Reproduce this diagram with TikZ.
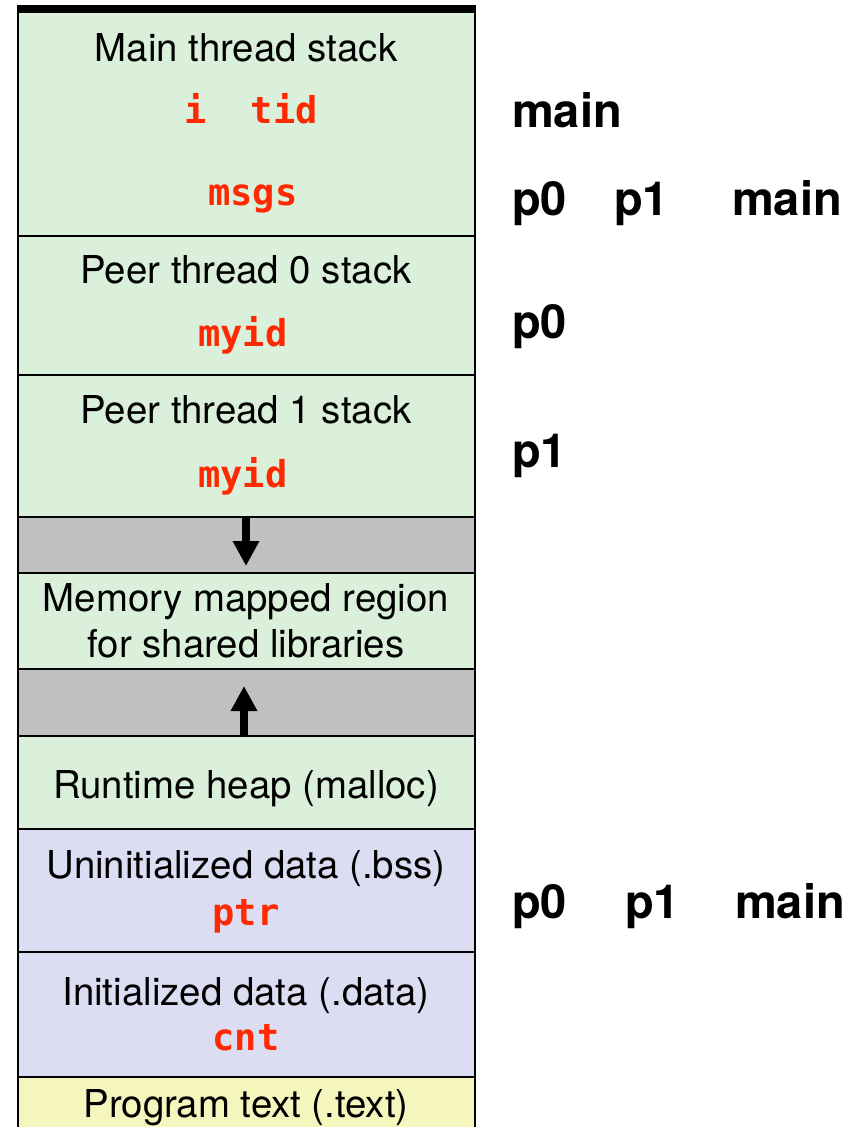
\documentclass[tikz,border=0pt]{standalone}
\usepackage{fontspec}
\setmainfont{TeX Gyre Heros}
\newfontfamily\codefont{DejaVu Sans Mono}
\usetikzlibrary{arrows.meta}

\definecolor{stackgreen}{RGB}{218,240,218}
\definecolor{datablue}{RGB}{220,221,243}
\definecolor{textyellow}{RGB}{245,245,190}
\definecolor{gapgray}{RGB}{192,192,192}
\definecolor{varred}{RGB}{255,40,0}

\tikzset{
  seg/.style={draw=black, line width=2.5pt, inner sep=0pt, outer sep=0pt,
              minimum width=457pt},
  regionlabel/.style={anchor=base, inner sep=0pt,
              font=\fontsize{38.4}{44}\selectfont},
  varlabel/.style={anchor=base, inner sep=0pt, text=varred,
              font=\codefont\bfseries\fontsize{37}{40}\selectfont},
  wholabel/.style={anchor=base west, inner sep=0pt,
              font=\bfseries\fontsize{47}{50}\selectfont},
  growarrow/.style={line width=8pt, -{Triangle[width=25pt,length=25pt]}},
}

\begin{document}
\begin{tikzpicture}[x=1pt, y=-1pt]
\useasboundingbox (0,0) rectangle (858,1127);
\clip (0,0) rectangle (858,1127);

% address-space segments, top to bottom
\node[seg, fill=stackgreen, minimum height=224pt] (mainstk) at (246.5,124)   {};
\node[seg, fill=stackgreen, minimum height=139pt] (peer0)   at (246.5,305.5) {};
\node[seg, fill=stackgreen, minimum height=142pt] (peer1)   at (246.5,446)   {};
\node[seg, fill=gapgray,    minimum height=56pt]  (gapA)    at (246.5,545)   {};
\node[seg, fill=stackgreen, minimum height=96pt]  (mmap)    at (246.5,621)   {};
\node[seg, fill=gapgray,    minimum height=67pt]  (gapB)    at (246.5,702.5) {};
\node[seg, fill=stackgreen, minimum height=93pt]  (heap)    at (246.5,782.5) {};
\node[seg, fill=datablue,   minimum height=123pt] (bss)     at (246.5,890.5) {};
\node[seg, fill=datablue,   minimum height=125pt] (data)    at (246.5,1014.5){};
\node[seg, fill=textyellow, minimum height=63pt]  (text)    at (246.5,1108.5){};

% top of the user stack
\node[fill=black, inner sep=0pt, minimum width=459pt, minimum height=8pt] (topedge) at (246.5,9) {};

% growth arrows
\coordinate (tipA) at (246,566);
\coordinate (tipB) at (244,686);
\draw[growarrow] (gapA.north -| tipA) -- (tipA);
\draw[growarrow] (gapB.south -| tipB) -- (tipB);

% segment names
\node[regionlabel] (lmain)  at (246,61)   {Main thread stack};
\node[regionlabel] (lpeer0) at (246,283)  {Peer thread 0 stack};
\node[regionlabel] (lpeer1) at (246,423)  {Peer thread 1 stack};
\node[regionlabel] (lmmapa) at (246,611)  {Memory mapped region};
\node[regionlabel] (lmmapb) at (246,657)  {for shared libraries};
\node[regionlabel] (lheap)  at (246,798)  {Runtime heap (malloc)};
\node[regionlabel] (lbss)   at (246,878)  {Uninitialized data (.bss)};
\node[regionlabel] (ldata)  at (246,1005) {Initialized data (.data)};
\node[regionlabel] (ltext)  at (246,1117) {Program text (.text)};

% variables stored in each segment
\node[varlabel] (vitid)  at (251,123)  {i\ \ tid};
\node[varlabel] (vmsgs)  at (253,205)  {msgs};
\node[varlabel] (vmyid0) at (243,346)  {myid};
\node[varlabel] (vmyid1) at (243,487)  {myid};
\node[varlabel] (vptr)   at (246,925)  {ptr};
\node[varlabel] (vcnt)   at (246,1050) {cnt};

% threads that reference them
\node[wholabel] (r1main) at (512,127) {main};
\node[wholabel] (r2p0)   at (512,215) {p0};
\node[wholabel] (r2p1)   at (614,215) {p1};
\node[wholabel] (r2main) at (732,215) {main};
\node[wholabel] (r3p0)   at (512,338) {p0};
\node[wholabel] (r4p1)   at (512,467) {p1};
\node[wholabel] (r5p0)   at (512,918) {p0};
\node[wholabel] (r5p1)   at (625,918) {p1};
\node[wholabel] (r5main) at (735,918) {main};
\end{tikzpicture}
\end{document}
